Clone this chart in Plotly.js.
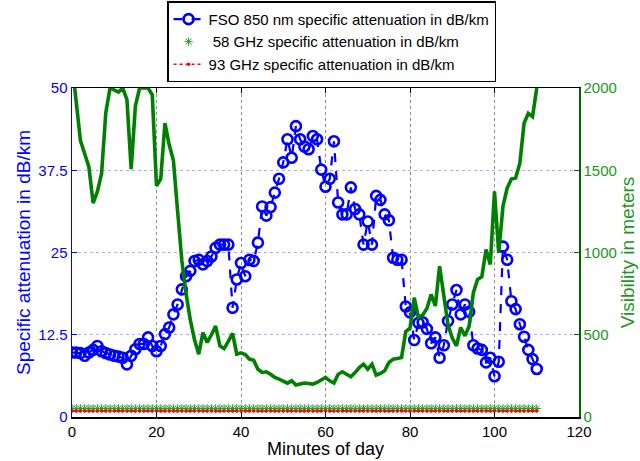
<!DOCTYPE html>
<html>
<head>
<meta charset="utf-8">
<script src="https://cdn.plot.ly/plotly-3.0.1.min.js"></script>
<style>html,body{margin:0;padding:0;background:#fff;}#chart{width:640px;height:461px;}</style>
</head>
<body>
<div id="chart"></div>
<script>
// Minutes of day
var minutes = [0,1,2,3,4,5,6,7,8,9,10,11,12,13,14,15,16,17,18,19,20,21,22,23,24,25,26,27,28,29,30,31,32,33,34,35,36,37,38,39,40,41,42,43,44,45,46,47,48,49,50,51,52,53,54,55,56,57,58,59,60,61,62,63,64,65,66,67,68,69,70,71,72,73,74,75,76,77,78,79,80,81,82,83,84,85,86,87,88,89,90,91,92,93,94,95,96,97,98,99,100,101,102,103,104,105,106,107,108,109,110];

// FSO 850 nm specific attenuation (dB/km)
var fso850 = [9.8,9.8,9.7,9.3,9.8,10.2,10.8,10.0,9.7,9.5,
  9.3,9.2,9.0,8.0,9.3,10.3,11.1,11.1,12.1,10.8,
  10.0,10.8,12.6,13.6,15.6,17.1,19.4,21.4,22.2,23.7,
  23.9,23.2,23.7,24.4,25.7,26.2,26.2,26.2,16.6,20.9,
  23.4,21.4,23.9,23.7,26.5,32.0,30.6,31.9,34.1,36.2,
  38.7,42.2,39.4,44.2,42.2,41.1,40.7,42.7,42.2,37.6,
  35.0,36.2,41.9,32.6,30.8,30.8,34.9,31.6,30.8,26.2,
  29.7,26.2,33.6,33.0,30.8,29.9,24.2,23.9,23.9,16.8,
  15.9,11.7,14.3,14.4,13.4,11.2,12.1,9.0,10.9,14.6,
  17.1,19.3,15.6,17.1,16.0,10.9,10.4,10.2,8.3,9.0,
  6.2,8.4,25.9,23.9,17.6,16.4,14.1,12.2,10.2,8.8,7.3];

// 58 GHz specific attenuation (dB/km)
var ghz58 = [1.3,1.3,1.3,1.3,1.3,1.3,1.3,1.3,1.3,1.3,
  1.3,1.3,1.3,1.3,1.3,1.3,1.3,1.3,1.3,1.3,
  1.3,1.3,1.3,1.3,1.3,1.3,1.3,1.3,1.3,1.3,
  1.3,1.3,1.3,1.3,1.3,1.3,1.3,1.3,1.3,1.3,
  1.3,1.3,1.3,1.3,1.3,1.3,1.3,1.3,1.3,1.3,
  1.3,1.3,1.3,1.3,1.3,1.3,1.3,1.3,1.3,1.3,
  1.3,1.3,1.3,1.3,1.3,1.3,1.3,1.3,1.3,1.3,
  1.3,1.3,1.3,1.3,1.3,1.3,1.3,1.3,1.3,1.3,
  1.3,1.3,1.3,1.3,1.3,1.3,1.3,1.3,1.3,1.3,
  1.3,1.3,1.3,1.3,1.3,1.3,1.3,1.3,1.3,1.3,
  1.3,1.3,1.3,1.3,1.3,1.3,1.3,1.3,1.3,1.3,1.3];

// 93 GHz specific attenuation (dB/km)
var ghz93 = [0.9,0.9,0.9,0.9,0.9,0.9,0.9,0.9,0.9,0.9,
  0.9,0.9,0.9,0.9,0.9,0.9,0.9,0.9,0.9,0.9,
  0.9,0.9,0.9,0.9,0.9,0.9,0.9,0.9,0.9,0.9,
  0.9,0.9,0.9,0.9,0.9,0.9,0.9,0.9,0.9,0.9,
  0.9,0.9,0.9,0.9,0.9,0.9,0.9,0.9,0.9,0.9,
  0.9,0.9,0.9,0.9,0.9,0.9,0.9,0.9,0.9,0.9,
  0.9,0.9,0.9,0.9,0.9,0.9,0.9,0.9,0.9,0.9,
  0.9,0.9,0.9,0.9,0.9,0.9,0.9,0.9,0.9,0.9,
  0.9,0.9,0.9,0.9,0.9,0.9,0.9,0.9,0.9,0.9,
  0.9,0.9,0.9,0.9,0.9,0.9,0.9,0.9,0.9,0.9,
  0.9,0.9,0.9,0.9,0.9,0.9,0.9,0.9,0.9,0.9,0.9];

// Visibility in meters
var visibility = [2150,1900,1680,1600,1520,1300,1370,1480,1850,2000,
  1990,1975,2000,1930,1507,1890,2000,2000,2000,1958,
  1406,1447,1786,1655,1560,1250,950,750,590,470,
  382,513,453,500,553,432,416,460,509,382,
  390,380,352,345,290,271,275,260,240,230,
  215,206,220,194,200,206,204,200,210,225,
  240,220,206,260,275,260,245,270,300,321,
  291,321,255,265,281,330,352,355,362,520,
  540,725,604,620,660,745,675,917,735,560,
  480,432,544,493,553,756,836,853,1018,927,
  1372,998,1281,1392,1447,1453,1543,1786,1846,1826,2000];

var leftTicks = [0,12.5,25,37.5,50];
var leftTickText = ['0','12.5','25','37.5','50'];
var rightTicks = [0,500,1000,1500,2000];
var xTicks = [0,20,40,60,80,100,120];

var BLUE = 'rgb(0,0,255)';
var GREEN = 'rgb(0,128,0)';
var GREENTXT = 'rgb(30,150,30)';
var FONT = 'Liberation Sans, Arial, sans-serif';

var traces = [
  {x: minutes, y: fso850, type: 'scatter', mode: 'lines+markers',
   name: 'FSO 850 nm specific attenuation in dB/km',
   line: {color: BLUE, width: 2.2, dash: 'dash'},
   marker: {symbol: 'circle-open', size: 10, color: BLUE, line: {color: BLUE, width: 2.6}}},
  {x: minutes, y: ghz58, type: 'scatter', mode: 'markers',
   name: ' 58 GHz specific attenuation in dB/km',
   marker: {symbol: 'asterisk-open', size: 7, color: 'rgb(40,160,40)', line: {color: 'rgb(40,160,40)', width: 1}}},
  {x: minutes, y: ghz93, type: 'scatter', mode: 'lines+markers',
   name: '93 GHz specific attenuation in dB/km',
   line: {color: 'rgb(255,0,0)', width: 1.5, dash: 'dot'},
   marker: {symbol: 'circle', size: 3.5, color: 'rgb(255,0,0)'}},
  {x: minutes, y: visibility, type: 'scatter', mode: 'lines', yaxis: 'y2',
   showlegend: false, line: {color: GREEN, width: 3.6}}
];

var layout = {
  width: 640, height: 461,
  margin: {l: 72, r: 61, t: 88, b: 44, pad: 0, autoexpand: false},
  paper_bgcolor: '#fff', plot_bgcolor: '#fff',
  font: {family: FONT, size: 15, color: '#000'},
  showlegend: true,
  legend: {x: 0.512, xanchor: 'center', xref: 'paper', y: 0.997, yanchor: 'top', yref: 'container',
    bgcolor: '#fff', bordercolor: '#000', borderwidth: 1.5,
    font: {family: FONT, size: 15, color: '#000'}},
  xaxis: {range: [0, 120], tickvals: xTicks, ticks: 'inside', ticklen: 5,
    tickcolor: '#000', showline: true, linecolor: '#000', linewidth: 1.5, mirror: 'ticks',
    showgrid: true, gridcolor: 'rgb(140,140,140)', griddash: 'dot', gridwidth: 1,
    zeroline: false, tickfont: {size: 15, color: '#000'},
    title: {text: 'Minutes of day', font: {size: 18, color: '#000'}, standoff: 3}},
  yaxis: {range: [0, 50], tickvals: leftTicks, ticktext: leftTickText, ticks: 'inside', ticklen: 5,
    tickcolor: BLUE, showline: true, linecolor: BLUE, linewidth: 1.5,
    showgrid: true, gridcolor: 'rgb(170,170,255)', griddash: 'dot', gridwidth: 1,
    zeroline: false, tickfont: {size: 15, color: BLUE},
    title: {text: 'Specific attenuation in dB/km', font: {size: 19, color: BLUE}, standoff: 2}},
  yaxis2: {range: [0, 2000], tickvals: rightTicks, overlaying: 'y', side: 'right',
    ticks: 'inside', ticklen: 5, tickcolor: 'rgb(0,100,0)', showline: true,
    linecolor: 'rgb(0,100,0)', linewidth: 1.5, showgrid: false, zeroline: false,
    tickfont: {size: 15, color: GREENTXT},
    title: {text: 'Visibility in meters', font: {size: 19, color: GREENTXT}, standoff: 2}}
};

Plotly.newPlot('chart', traces, layout, {displayModeBar: false, staticPlot: true});
</script>
</body>
</html>
